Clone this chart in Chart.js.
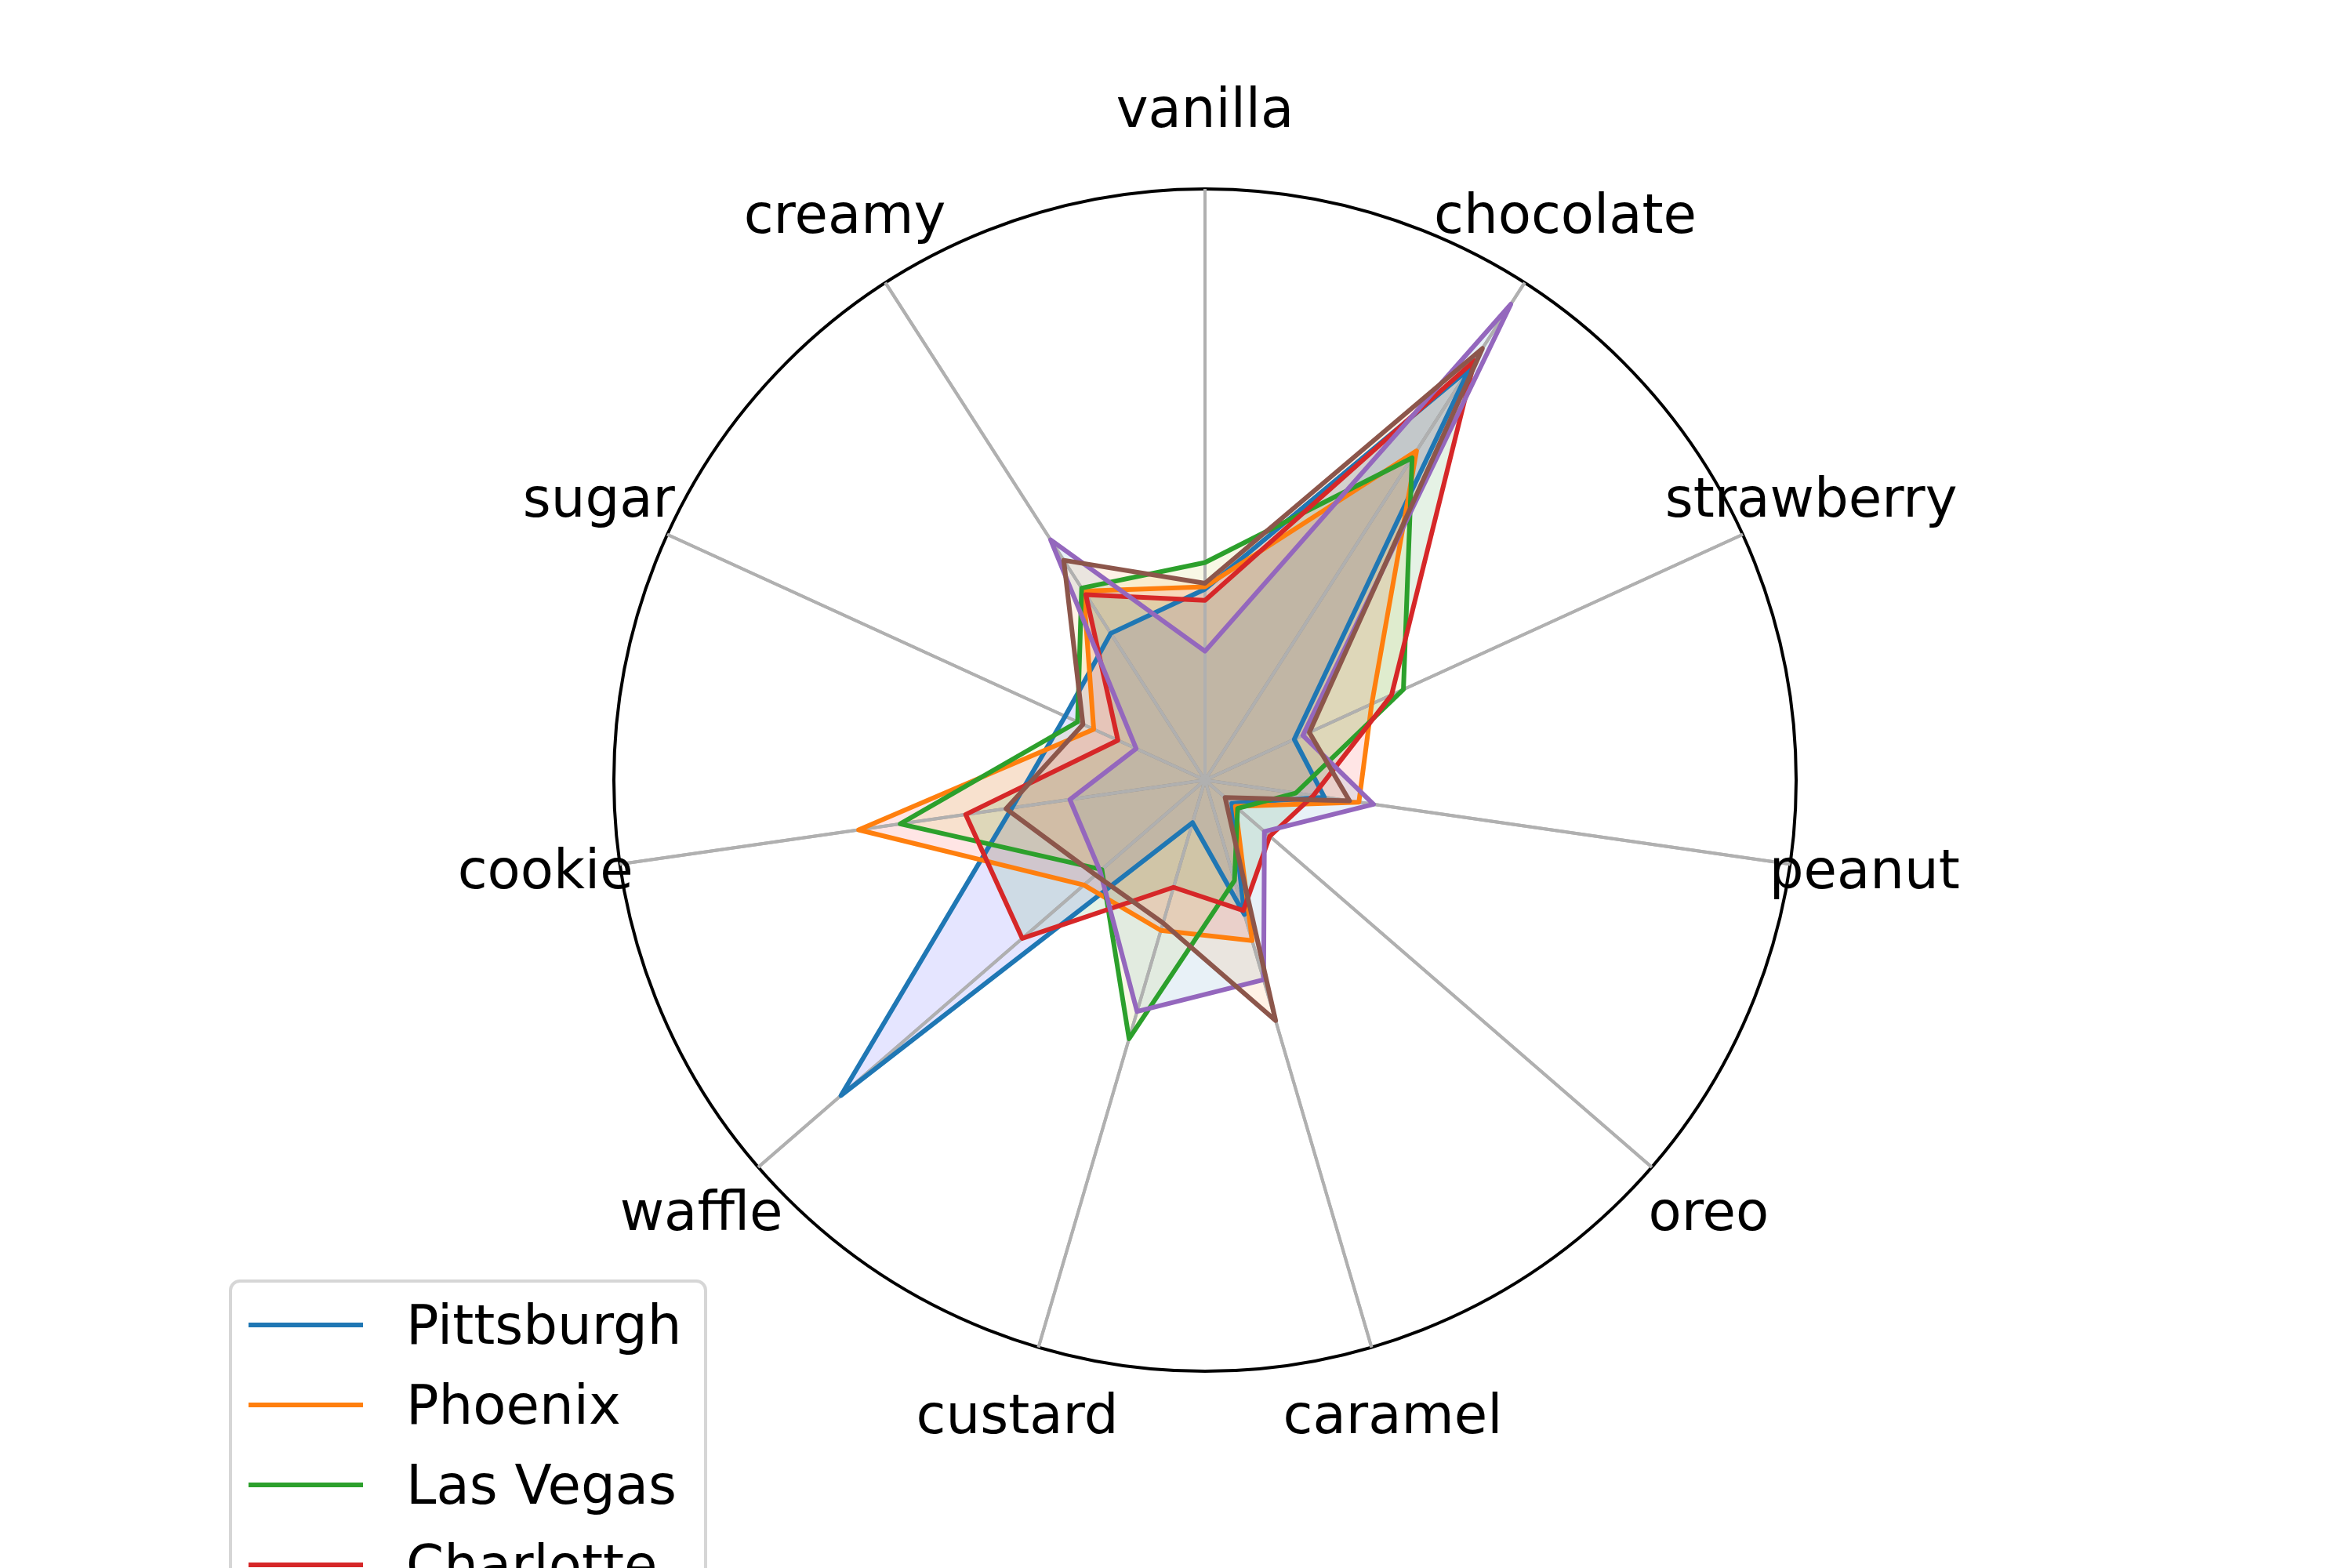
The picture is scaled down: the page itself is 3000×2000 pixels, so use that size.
<!DOCTYPE html>
<html>
<head>
<meta charset="utf-8">
<script src="https://cdn.jsdelivr.net/npm/chart.js@4.4.1/dist/chart.umd.min.js"></script>
<style>
  html, body { margin: 0; padding: 0; background: #ffffff; }
</style>
</head>
<body>
<canvas id="radar_chart" width="3000" height="2000"></canvas>
<script>
// flavour axes, clockwise from the top
const categories = ["vanilla", "chocolate", "strawberry", "peanut", "oreo", "caramel",
  "custard", "waffle", "cookie", "sugar", "creamy"];

// values (share of the outer circle)
const pittsburgh = [0.323, 0.827, 0.166, 0.204, 0.060, 0.237, 0.075, 0.815, 0.330, 0.260, 0.295];
const phoenix    = [0.327, 0.662, 0.310, 0.263, 0.068, 0.283, 0.265, 0.271, 0.592, 0.207, 0.380];
const las_vegas  = [0.368, 0.648, 0.369, 0.155, 0.073, 0.177, 0.456, 0.231, 0.521, 0.237, 0.386];
const charlotte  = [0.304, 0.843, 0.347, 0.185, 0.145, 0.230, 0.189, 0.409, 0.409, 0.162, 0.373];
const toronto    = [0.218, 0.957, 0.182, 0.288, 0.133, 0.352, 0.408, 0.235, 0.231, 0.128, 0.483];
const cleveland  = [0.333, 0.868, 0.194, 0.247, 0.045, 0.424, 0.252, 0.245, 0.340, 0.227, 0.442];

const city_names = ["Pittsburgh", "Phoenix", "Las Vegas", "Charlotte", "Toronto", "Cleveland"];
const city_values = [pittsburgh, phoenix, las_vegas, charlotte, toronto, cleveland];

const line_colors = ["#1f77b4", "#ff7f0e", "#2ca02c", "#d62728", "#9467bd", "#8c564b"];
const fill_colors = [
  "rgba(0, 0, 255, 0.1)",
  "rgba(255, 0, 0, 0.1)",
  "rgba(191, 191, 0, 0.1)",
  "rgba(0, 128, 0, 0.1)",
  "rgba(31, 119, 180, 0.1)",
  "rgba(255, 127, 14, 0.1)",
];

const label_font = "69px 'DejaVu Sans'";

// spokes again, on top of the fills but under the lines
const spokes_plugin = {
  id: "spokes_over_fill",
  beforeDatasetsDraw: (chart) => {
    const scale = chart.scales.r;
    const ctx = chart.ctx;
    ctx.save();
    ctx.strokeStyle = "#b0b0b0";
    ctx.lineWidth = 4;
    categories.forEach((name, i) => {
      const end = scale.getPointPosition(i, scale.drawingArea);
      ctx.beginPath();
      ctx.moveTo(scale.xCenter, scale.yCenter);
      ctx.lineTo(end.x, end.y);
      ctx.stroke();
    });
    ctx.restore();
  },
};

// axis names centred on a ring outside the circle
const labels_plugin = {
  id: "category_labels",
  afterDraw: (chart) => {
    const scale = chart.scales.r;
    const ctx = chart.ctx;
    ctx.save();
    ctx.font = label_font;
    ctx.fillStyle = "#000000";
    ctx.textAlign = "center";
    ctx.textBaseline = "alphabetic";
    categories.forEach((name, i) => {
      const p = scale.getPointPosition(i, scale.drawingArea + 96);
      ctx.fillText(name, p.x, p.y + 17);
    });
    ctx.restore();
  },
};

// legend box in the lower left, running off the bottom like the original
const legend_plugin = {
  id: "city_legend",
  afterDraw: (chart) => {
    const ctx = chart.ctx;
    const left = 294, top = 1634, width = 606, row = 102;
    ctx.save();
    ctx.beginPath();
    ctx.roundRect(left, top, width, row * city_names.length + 80, 12);
    ctx.fillStyle = "rgba(255, 255, 255, 0.8)";
    ctx.fill();
    ctx.lineWidth = 4;
    ctx.strokeStyle = "#d6d6d6";
    ctx.stroke();
    ctx.font = label_font;
    ctx.textAlign = "left";
    ctx.textBaseline = "alphabetic";
    city_names.forEach((name, i) => {
      const y = 1690 + row * i;
      ctx.beginPath();
      ctx.moveTo(317, y);
      ctx.lineTo(463, y);
      ctx.lineWidth = 6;
      ctx.strokeStyle = line_colors[i];
      ctx.stroke();
      ctx.fillStyle = "#000000";
      ctx.fillText(name, 518, y + 24);
    });
    ctx.restore();
  },
};

const datasets = city_names.map((name, i) => ({
  label: name,
  data: city_values[i],
  borderColor: line_colors[i],
  backgroundColor: fill_colors[i],
  borderWidth: 6,
  borderJoinStyle: "round",
  pointRadius: 0,
  fill: true,
  order: city_names.length - 1 - i,
}));

const config_radar = {
  type: "radar",
  data: { labels: categories, datasets: datasets },
  options: {
    responsive: false,
    devicePixelRatio: 1,
    animation: false,
    layout: { padding: { left: 783, right: 709, top: 241, bottom: 251 } },
    scales: {
      r: {
        min: 0,
        max: 1,
        ticks: { display: false, stepSize: 1 },
        pointLabels: { display: false },
        grid: { circular: true, color: "#000000", lineWidth: 4 },
        angleLines: { color: "#b0b0b0", lineWidth: 4 },
      },
    },
    plugins: {
      legend: { display: false },
      tooltip: { enabled: false },
      filler: { drawTime: "beforeDatasetsDraw" },
    },
  },
  plugins: [spokes_plugin, labels_plugin, legend_plugin],
};

const ctx_radar = document.getElementById("radar_chart");
const radar_chart = new Chart(ctx_radar, config_radar);
</script>
</body>
</html>
